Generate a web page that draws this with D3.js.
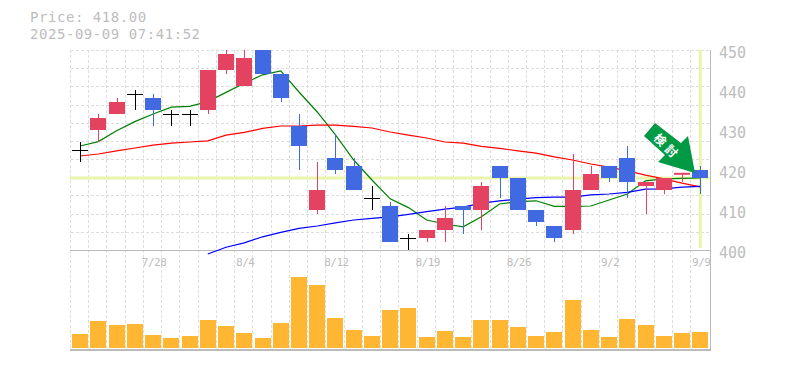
<!DOCTYPE html>
<html>
<head>
<meta charset="utf-8">
<script src="https://d3js.org/d3.v7.min.js"></script>
<style>
  html, body { margin: 0; padding: 0; background: #fff; }
  svg { display: block; }
  text { font-family: "DejaVu Sans Mono", monospace; fill: #bdbdbd; }
</style>
</head>
<body>
<div id="chart"></div>
<script>
// trading days, 7/22 to 9/9
const dates = ["7/22","7/23","7/24","7/25","7/28","7/29","7/30","7/31","8/1","8/4","8/5","8/6","8/7","8/8","8/12","8/13","8/14","8/15","8/18","8/19","8/20","8/21","8/22","8/25","8/26","8/27","8/28","8/29","9/1","9/2","9/3","9/4","9/5","9/8","9/9"];
const tickDates = ["7/28","8/4","8/12","8/19","8/26","9/2","9/9"];
const priceTicks = [400, 410, 420, 430, 440, 450];

// candles
const opens  = [425,430,434,439,438,434,434,435,445,441,452,444,431,410,423,421,413,411,403,403,405,411,410,421,418,410,406,405,415,421,423,416,415,418.8,420];
const closes = [425,433,437,439,435,434,434,445,449,448,444,438,426,415,420,415,413,402,403,405,408,410,416,418,410,407,403,415,419,418,417,417,418,419.3,418];
const highs  = [427,434,438,440,439,435,435,445,451,451,452,444,434,422,429,423,416,412,404,405,411,411,417,421,418,410,406,424,421,421,426,417,418,419.3,421];
const lows   = [422,427,434,435,431,431,431,434,444,441,444,437,420,409,419,415,410,402,400,402,402,404,405,413,410,406,402,404,415,417,413,409,414,417,414];

// moving averages
const maShort = [426,427.1,429.8,432.1,434,435.7,435.9,437.1,439.4,441.7,443.8,444.8,439.5,434.5,428.8,422.5,417.5,412.8,410.6,407.5,406.5,405.8,408.3,411.5,412.1,412.3,410.9,410.9,411,412.5,414,417.3,417.8,417.9,418];
const maMid = [423.5,424,424.8,425.5,426.2,426.7,427,427.3,428.7,429.4,430.4,431,431,431.2,431.2,430.9,430.5,429.5,428.7,428,427,426.7,425.9,425.4,424.8,424.2,423.3,422.5,421.5,420.7,419.8,418.7,417.8,416.7,415.8];
const maLong = [null,null,null,null,null,null,null,399,400.7,401.8,403.3,404.4,405.4,406,406.8,407.5,407.9,408.3,408.9,409.6,410.2,410.7,411.7,412.3,412.7,413.1,413.2,413.2,413.8,414,414.4,415.2,415.3,415.7,415.9];

const volume = [14,27,23,24,13,10,12,28,22,15,10,25,71,63,30,18,12,38,40,11,17,11,28,28,21,12,16,48,18,11,29,23,12,15,16];

const lastPrice = 418;

const width = 785, height = 370;
const plotLeft = 71, plotRight = 709.4, plotTop = 50, plotBottom = 250, volBottom = 348;

const svg = d3.select("#chart").append("svg")
    .attr("width", width)
    .attr("height", height);

const x = d3.scaleBand().domain(dates).range([plotLeft, plotRight]);
const y = d3.scaleLinear().domain([400, 450]).range([plotBottom, plotTop]);
const yVol = d3.scaleLinear().domain([0, 98]).range([volBottom, plotBottom]);
const mid = d => x(d) + x.bandwidth() / 2;

// header
svg.append("text").attr("x", 30).attr("y", 22).style("font-size", "14px").style("letter-spacing", "0.55px")
    .text("Price: " + lastPrice.toFixed(2));
svg.append("text").attr("x", 30).attr("y", 38.5).style("font-size", "14px").style("letter-spacing", "0.55px")
    .text("2025-09-09 07:41:52");

// dashed grid
const grid = svg.append("g").attr("stroke", "#ddd").attr("stroke-dasharray", "3,2");
grid.selectAll("line.v").data(d3.range(dates.length)).enter().append("line")
    .attr("x1", i => Math.round(plotLeft + i * x.step()) - 0.5)
    .attr("x2", i => Math.round(plotLeft + i * x.step()) - 0.5)
    .attr("y1", plotTop).attr("y2", plotBottom + 100);
grid.selectAll("line.h").data(d3.range(11)).enter().append("line")
    .attr("x1", plotLeft).attr("x2", plotRight)
    .attr("y1", i => Math.round(plotTop + i * (plotBottom - plotTop) / 11) + 0.5)
    .attr("y2", i => Math.round(plotTop + i * (plotBottom - plotTop) / 11) + 0.5);

// current price and current day markers
svg.append("line").attr("x1", 70).attr("x2", 710)
    .attr("y1", y(lastPrice)).attr("y2", y(lastPrice))
    .attr("stroke", "#e8f5ab").attr("stroke-width", 3);
svg.append("line").attr("x1", mid("9/9")).attr("x2", mid("9/9"))
    .attr("y1", plotTop).attr("y2", plotBottom - 2)
    .attr("stroke", "#e8f5ab").attr("stroke-width", 3);

// panel borders
const frame = svg.append("g").attr("stroke", "#bbb");
frame.append("line").attr("x1", 70).attr("x2", 711).attr("y1", 250.5).attr("y2", 250.5);
frame.append("line").attr("x1", 70).attr("x2", 711).attr("y1", 350).attr("y2", 350).attr("stroke-width", 2);
frame.append("line").attr("x1", 710.5).attr("x2", 710.5).attr("y1", plotTop).attr("y2", 351);

// volume
svg.append("g").selectAll("rect").data(volume).enter().append("rect")
    .attr("x", (d, i) => Math.round(mid(dates[i])) - 8)
    .attr("width", 16)
    .attr("y", d => yVol(d))
    .attr("height", d => volBottom - yVol(d))
    .attr("fill", "#ffb733");

// clip the price marks at the top of the panel
svg.append("clipPath").attr("id", "priceClip").append("rect")
    .attr("x", plotLeft).attr("y", plotTop).attr("width", 640).attr("height", 205);
const price = svg.append("g").attr("clip-path", "url(#priceClip)");

// moving averages sit under the candles
const line = d3.line()
    .defined(d => d !== null)
    .x((d, i) => mid(dates[i]))
    .y(d => y(d));
[[maShort, "#008000"], [maMid, "#ff0000"], [maLong, "#0000ff"]].forEach(function(m) {
    price.append("path").datum(m[0])
        .attr("fill", "none")
        .attr("stroke", m[1])
        .attr("stroke-width", 1.2)
        .attr("d", line);
});

// candles
function candleColor(i) {
    if (closes[i] > opens[i]) return "#e34360";
    if (closes[i] < opens[i]) return "#4169e1";
    return "#000";
}
const candles = price.selectAll("g.candle").data(dates).enter().append("g").attr("class", "candle");
candles.append("line")
    .attr("x1", d => Math.round(mid(d)) + 0.5).attr("x2", d => Math.round(mid(d)) + 0.5)
    .attr("y1", (d, i) => y(highs[i])).attr("y2", (d, i) => y(lows[i]))
    .attr("stroke", (d, i) => candleColor(i));
candles.append("rect")
    .attr("x", d => Math.round(mid(d)) - 8)
    .attr("width", 16)
    .attr("y", (d, i) => y(Math.max(opens[i], closes[i])))
    .attr("height", (d, i) => Math.max(1, Math.abs(y(opens[i]) - y(closes[i]))))
    .attr("fill", (d, i) => candleColor(i));

// buy signal arrow
const arrow = svg.append("g");
arrow.append("polygon")
    .attr("points", "655,123 644,136 665,155 658,162 695,173 688,136 681,143")
    .attr("fill", "#009944");
arrow.append("text")
    .attr("transform", "translate(667,147) rotate(45)")
    .attr("text-anchor", "middle").attr("dy", "0.35em")
    .style("font-family", "'Noto Sans CJK JP'").style("font-size", "12px").style("font-weight", "bold")
    .style("letter-spacing", "4px")
    .style("fill", "#fff")
    .text("検討");

// axis labels
svg.append("g").selectAll("text").data(priceTicks).enter().append("text")
    .attr("x", 719).attr("y", d => y(d) + 8)
    .style("font-size", "15px")
    .text(d => d);
svg.append("g").selectAll("text").data(tickDates).enter().append("text")
    .attr("x", d => mid(d) + 1).attr("y", 266)
    .attr("text-anchor", "middle")
    .style("font-size", "11px").style("letter-spacing", "-0.5px")
    .text(d => d);
</script>
</body>
</html>
